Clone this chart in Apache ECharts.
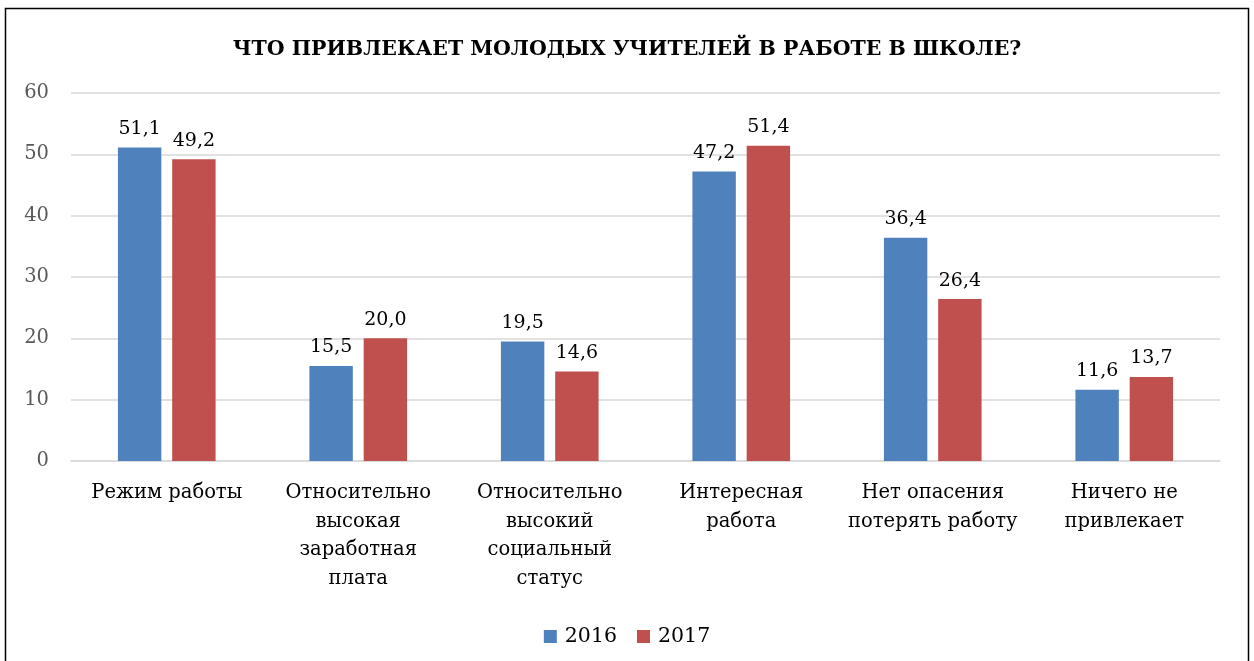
<!DOCTYPE html>
<html><head><meta charset="utf-8">
<script src="https://cdn.jsdelivr.net/npm/echarts@6/dist/echarts.min.js"></script>
<style>html,body{margin:0;padding:0;background:#fff}#c{width:1254px;height:661px}</style>
</head><body><div id="c"></div>
<script>
var categories = ['Режим работы', 'Относительно\nвысокая\nзаработная\nплата', 'Относительно\nвысокий\nсоциальный\nстатус', 'Интересная\nработа', 'Нет опасения\nпотерять работу', 'Ничего не\nпривлекает'];
var values2016 = [51.1, 15.5, 19.5, 47.2, 36.4, 11.6];
var values2017 = [49.2, 20.0, 14.6, 51.4, 26.4, 13.7];
var seriesNames = ['2016', '2017'];
var FONT = 'DejaVu Serif';
var chart = echarts.init(document.getElementById('c'), null, {renderer: 'canvas'});
function lbl() {
  return {show: true, position: 'top', distance: 9, color: '#000', fontFamily: FONT, fontSize: 19,
    formatter: function (p) { return p.value.toFixed(1).replace('.', ','); }};
}
chart.setOption({
  animation: false,
  title: {text: 'ЧТО ПРИВЛЕКАЕТ МОЛОДЫХ УЧИТЕЛЕЙ В РАБОТЕ В ШКОЛЕ?', left: 'center', top: 34,
    textStyle: {fontFamily: FONT, fontWeight: 'bold', fontSize: 20.5, color: '#000'}},
  graphic: [{type: 'rect', shape: {x: 5.5, y: 8.5, width: 1243, height: 700}, style: {fill: 'none', stroke: '#000', lineWidth: 1.5}, silent: true, z: 100}],
  legend: {data: seriesNames, bottom: 9, left: 'center', itemWidth: 13, itemHeight: 13, itemGap: 20, icon: 'rect',
    textStyle: {fontFamily: FONT, fontSize: 20.5, color: '#000', padding: [0, 0, 0, 3]}},
  grid: {left: 71, right: 34, top: 93, bottom: 200, containLabel: false},
  xAxis: {type: 'category', data: categories, axisTick: {show: false},
    axisLine: {show: true, lineStyle: {color: '#d9d9d9', width: 1.5}},
    axisLabel: {interval: 0, margin: 18, color: '#000', fontFamily: FONT, fontSize: 19.5, lineHeight: 28.5}},
  yAxis: {type: 'value', min: 0, max: 60, interval: 10,
    axisLine: {show: false}, axisTick: {show: false},
    splitLine: {lineStyle: {color: '#d9d9d9', width: 1.5}},
    axisLabel: {margin: 22, color: '#595959', fontFamily: FONT, fontSize: 19.5}},
  series: [
    {name: seriesNames[0], type: 'bar', data: values2016, barGap: '25%', barCategoryGap: '49%',
      itemStyle: {color: '#4f81bd'}, label: lbl()},
    {name: seriesNames[1], type: 'bar', data: values2017,
      itemStyle: {color: '#c0504d'}, label: lbl()}
  ]
});
</script></body></html>
